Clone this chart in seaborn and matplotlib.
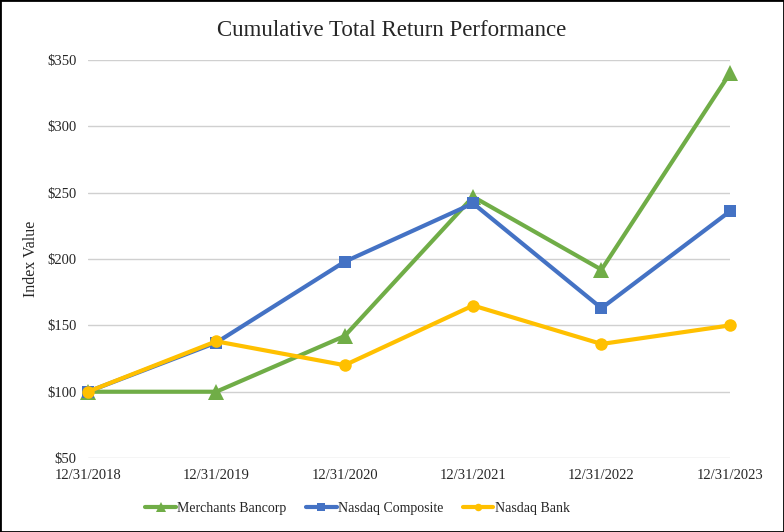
import pandas as pd
import matplotlib
matplotlib.use("Agg")
import matplotlib.pyplot as plt
import seaborn as sns
from matplotlib.patches import Rectangle

# Chart data
dates = ["12/31/2018", "12/31/2019", "12/31/2020", "12/31/2021", "12/31/2022", "12/31/2023"]
merchants = [100, 100, 142, 247, 192, 340]
nasdaq_comp = [100, 137, 198, 242, 163, 236]
nasdaq_bank = [100, 138, 120, 165, 136, 150]
series_names = ["Merchants Bancorp", "Nasdaq Composite", "Nasdaq Bank"]
y_ticks = [50, 100, 150, 200, 250, 300, 350]

# Long format for seaborn
data = pd.DataFrame({
    "Date": dates * 3,
    "Value": merchants + nasdaq_comp + nasdaq_bank,
    "Series": [series_names[0]] * 6 + [series_names[1]] * 6 + [series_names[2]] * 6,
})

sns.set_style("white")
plt.rcParams["font.family"] = ["Liberation Serif", "DejaVu Serif"]

colors = {"Merchants Bancorp": "#70AD47", "Nasdaq Composite": "#4472C4", "Nasdaq Bank": "#FFC000"}
markers = {"Merchants Bancorp": "^", "Nasdaq Composite": "s", "Nasdaq Bank": "o"}

fig = plt.figure(figsize=(7.84, 5.32), dpi=100)
ax = fig.add_axes([0.112, 0.139, 0.819, 0.748])

sns.lineplot(data=data, x="Date", y="Value", hue="Series", style="Series",
             palette=colors, markers=markers, dashes=False, linewidth=3,
             markersize=9, markeredgewidth=0, ax=ax)
for line in ax.lines:
    line.set_clip_on(False)
    if line.get_marker() == "^":
        line.set_markersize(11)

ax.set_xlim(0, 5)
ax.set_ylim(50, 350)
ax.set_yticks(y_ticks)
ax.set_yticklabels([f"${v}" for v in y_ticks])
ax.set_xlabel("")
ax.set_ylabel("Index Value", fontsize=11.5, labelpad=6)
ax.grid(axis="y", color="#D0D0D0", linewidth=1)
ax.set_axisbelow(True)
for s in ax.spines.values():
    s.set_visible(False)
ax.tick_params(axis="both", length=0, labelsize=10.5)
ax.tick_params(axis="x", pad=8)
ax.tick_params(axis="y", pad=8)

fig.suptitle("Cumulative Total Return Performance", fontsize=16.5, x=0.5, y=0.962)

fig.legend(*ax.get_legend_handles_labels(), loc="center", bbox_to_anchor=(0.456, 0.045),
           ncol=3, frameon=False, fontsize=10, handlelength=2.2, handletextpad=0.1,
           columnspacing=1.4, markerscale=0.6)
ax.get_legend().remove()

fig.patches.append(Rectangle((0, 0), 1, 1, transform=fig.transFigure,
                             fill=False, edgecolor="black", linewidth=2))

plt.savefig("out.png", dpi=100)
